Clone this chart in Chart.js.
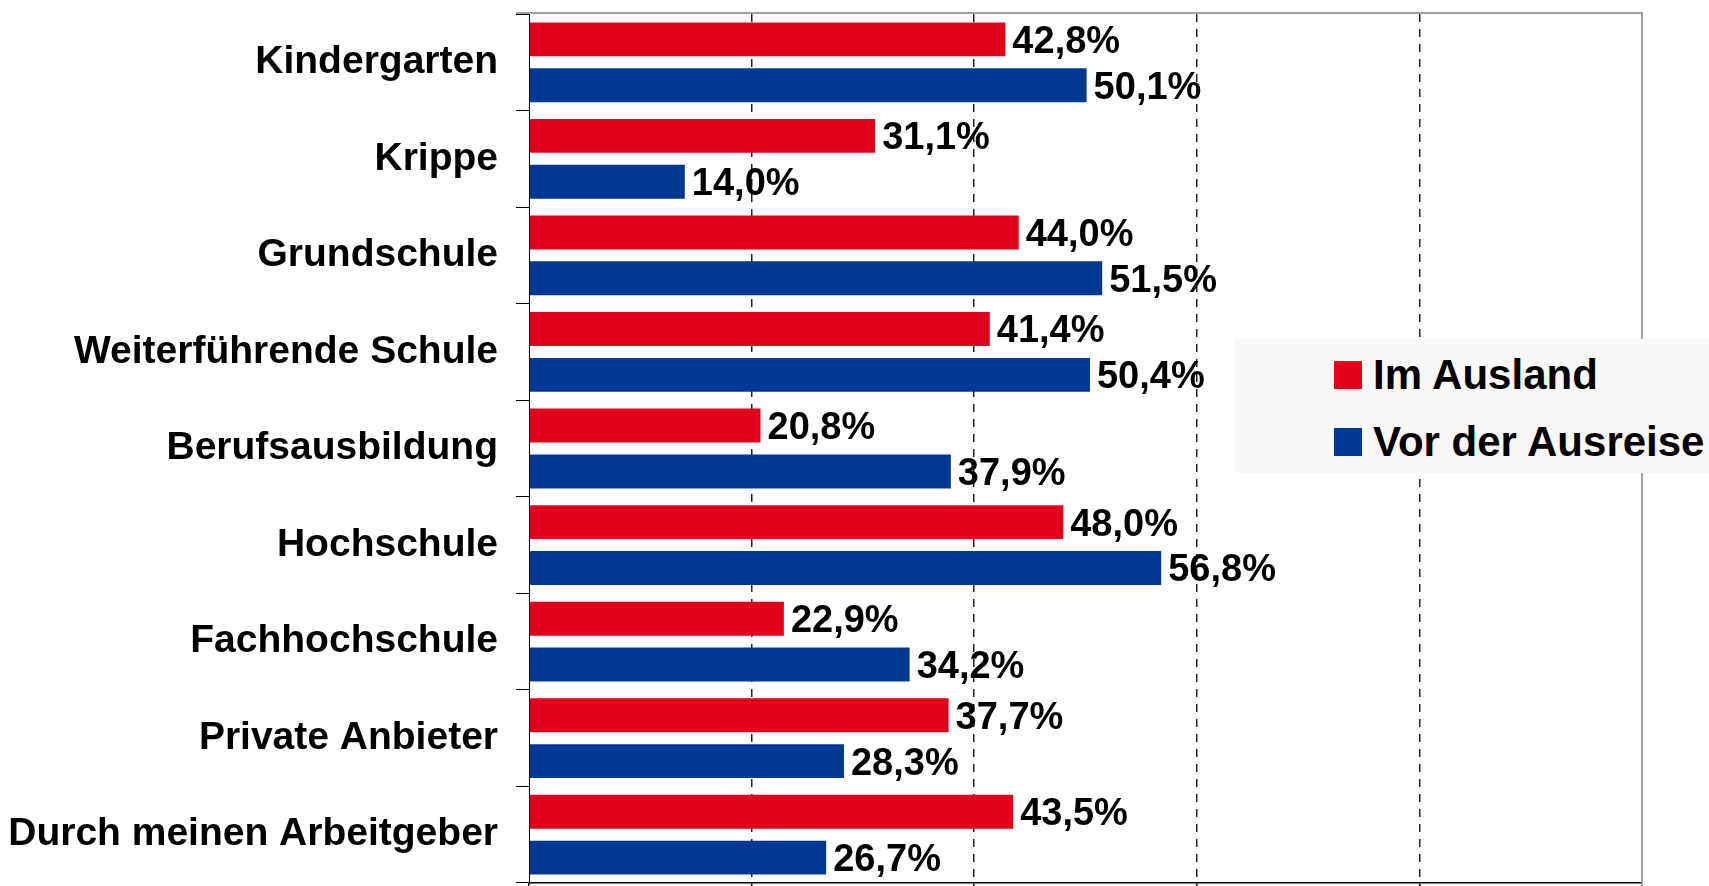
<!DOCTYPE html>
<html lang="de">
<head>
    <meta charset="UTF-8">
    <title>Betreuung und Bildung</title>
    <script src="https://cdn.jsdelivr.net/npm/chart.js"></script>
    <style>
        body { margin: 0; background: #fff; }
        #wrap { position: relative; width: 1709px; height: 886px; }
        #legend {
            position: absolute; left: 1235px; top: 339px; width: 474px; height: 134px;
            background: #f9f8f6; font-family: 'Liberation Sans', Arial, sans-serif;
            font-weight: bold; font-size: 42px; color: #000;
        }
        .item { position: absolute; left: 99px; height: 40px; display: flex; align-items: center; white-space: nowrap; }
        .box { width: 28px; height: 28px; margin-right: 11px; }
    </style>
</head>
<body>
<div id="wrap">
    <canvas id="chart" width="1709" height="886"></canvas>
    <div id="legend"></div>
</div>
<script>
    // Kategorien und Werte (Prozent)
    const categories = ['Kindergarten', 'Krippe', 'Grundschule', 'Weiterführende Schule', 'Berufsausbildung',
        'Hochschule', 'Fachhochschule', 'Private Anbieter', 'Durch meinen Arbeitgeber'];
    const imAusland = [42.8, 31.1, 44.0, 41.4, 20.8, 48.0, 22.9, 37.7, 43.5];
    const vorDerAusreise = [50.1, 14.0, 51.5, 50.4, 37.9, 56.8, 34.2, 28.3, 26.7];
    const seriesNames = ['Im Ausland', 'Vor der Ausreise'];
    const seriesColors = ['#e3001b', '#003893'];

    const fontFamily = "'Liberation Sans', Arial, sans-serif";

    // Werte rechts neben die Balken schreiben
    const valueLabels = {
        id: 'valueLabels',
        afterDatasetsDraw(chart) {
            const ctx = chart.ctx;
            ctx.save();
            ctx.font = 'bold 38px ' + fontFamily;
            ctx.fillStyle = '#000';
            ctx.textAlign = 'left';
            ctx.textBaseline = 'middle';
            chart.data.datasets.forEach((ds, i) => {
                chart.getDatasetMeta(i).data.forEach((bar, j) => {
                    const txt = ds.data[j].toFixed(1).replace('.', ',') + '%';
                    ctx.fillText(txt, bar.x + 7, bar.y + 3);
                });
            });
            ctx.restore();
        }
    };

    // graue Rahmenlinien oben und rechts
    const frame = {
        id: 'frame',
        beforeDatasetsDraw(chart) {
            const { ctx, chartArea: a } = chart;
            ctx.save();
            ctx.strokeStyle = '#a0a0a0';
            ctx.lineWidth = 2;
            ctx.beginPath();
            ctx.moveTo(a.left - 13, a.top - 1);
            ctx.lineTo(a.right, a.top - 1);
            ctx.lineTo(a.right, a.bottom + 3);
            ctx.stroke();
            ctx.restore();
        }
    };

    new Chart(document.getElementById('chart'), {
        type: 'bar',
        data: {
            labels: categories,
            datasets: [
                { label: seriesNames[0], data: imAusland, backgroundColor: seriesColors[0] },
                { label: seriesNames[1], data: vorDerAusreise, backgroundColor: seriesColors[1] }
            ]
        },
        options: {
            indexAxis: 'y',
            responsive: false,
            animation: false,
            devicePixelRatio: 1,
            categoryPercentage: 0.95,
            barPercentage: 0.74,
            layout: { padding: { top: 14, right: 67, bottom: 0, left: 0 } },
            plugins: {
                legend: { display: false },
                tooltip: { enabled: false }
            },
            scales: {
                x: {
                    min: 0,
                    max: 100,
                    ticks: { stepSize: 20, display: false },
                    grid: {
                        color: (c) => (c.index === 0 || c.index === 5) ? 'rgba(0,0,0,0)' : '#222',
                        lineWidth: 1.5,
                        drawTicks: true,
                        tickLength: 3,
                        tickColor: '#000'
                    },
                    border: { display: true, color: '#000', width: 1.5, dash: [8, 7] },
                    afterFit: (s) => { s.height = 3; s.paddingLeft = 0; s.paddingRight = 0; }
                },
                y: {
                    ticks: {
                        color: '#000',
                        padding: 18,
                        font: { family: fontFamily, size: 39, weight: 'bold' }
                    },
                    grid: {
                        drawOnChartArea: false,
                        drawTicks: true,
                        tickLength: 13,
                        color: '#000',
                        lineWidth: 1
                    },
                    border: { display: true, color: '#000', width: 1 },
                    afterFit: (s) => { s.width = 529; s.paddingTop = 0; s.paddingBottom = 0; }
                }
            }
        },
        plugins: [frame, valueLabels]
    });

    // Legende als HTML
    const legend = document.getElementById('legend');
    const rowTops = [16, 83];
    seriesNames.forEach((name, i) => {
        const row = document.createElement('div');
        row.className = 'item';
        row.style.top = rowTops[i] + 'px';
        row.innerHTML = '<span class="box" style="background:' + seriesColors[i] + '"></span>' + name;
        legend.appendChild(row);
    });
</script>
</body>
</html>
